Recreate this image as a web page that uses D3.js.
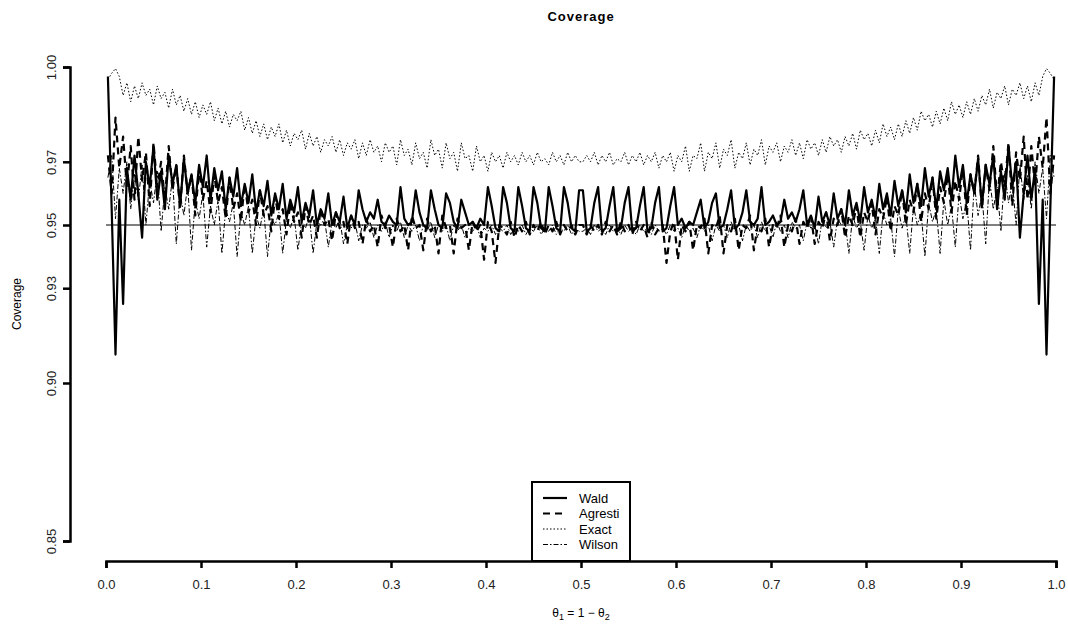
<!DOCTYPE html>
<html>
<head>
<meta charset="utf-8">
<script src="https://cdn.jsdelivr.net/npm/d3@7"></script>
<style>
  body { margin: 0; background: #fff; }
  svg { font-family: "Liberation Sans", Arial, sans-serif; }
</style>
</head>
<body>
<div id="chart-container"></div>
<script>
// Coverage values for theta1 in [0, 0.5], step 0.004
// (the curves are symmetric about 0.5, the right half is the mirror image)
const thetaHalf = d3.range(125).map(i => 0.002 + 0.004 * i);

const wald = [
  0.997, 0.955, 0.909, 0.958, 0.925, 0.968, 0.958, 0.972, 0.960, 0.946,
  0.970, 0.962, 0.975, 0.958, 0.967, 0.955, 0.972, 0.963, 0.969, 0.956,
  0.971, 0.960, 0.966, 0.957, 0.969, 0.962, 0.972, 0.958, 0.968, 0.961,
  0.967, 0.955, 0.965, 0.959, 0.968, 0.956, 0.963, 0.957, 0.966, 0.954,
  0.961, 0.956, 0.964, 0.953, 0.960, 0.955, 0.963, 0.952, 0.958, 0.954,
  0.962, 0.951, 0.957, 0.953, 0.961, 0.950, 0.955, 0.952, 0.960, 0.950,
  0.954, 0.951, 0.959, 0.949, 0.953, 0.950, 0.961, 0.955, 0.951, 0.954,
  0.952, 0.958, 0.951, 0.950, 0.953, 0.951, 0.950, 0.962, 0.952, 0.950,
  0.951, 0.961, 0.954, 0.950, 0.949, 0.961, 0.955, 0.950, 0.949, 0.960,
  0.957, 0.951, 0.949, 0.958, 0.954, 0.950, 0.951, 0.949, 0.952, 0.950,
  0.962, 0.956, 0.949, 0.948, 0.962, 0.957, 0.949, 0.948, 0.962, 0.956,
  0.949, 0.948, 0.962, 0.957, 0.949, 0.948, 0.962, 0.956, 0.949, 0.948,
  0.962, 0.957, 0.949, 0.948, 0.961
];

const agresti = [
  0.972, 0.960, 0.984, 0.968, 0.978, 0.962, 0.975, 0.958, 0.978, 0.964,
  0.973, 0.956, 0.976, 0.962, 0.970, 0.958, 0.975, 0.961, 0.969, 0.955,
  0.972, 0.960, 0.966, 0.953, 0.968, 0.958, 0.964, 0.954, 0.966, 0.957,
  0.962, 0.952, 0.965, 0.955, 0.960, 0.951, 0.963, 0.954, 0.958, 0.950,
  0.961, 0.953, 0.956, 0.948, 0.959, 0.952, 0.955, 0.947, 0.957, 0.951,
  0.954, 0.946, 0.956, 0.950, 0.953, 0.946, 0.955, 0.950, 0.952, 0.945,
  0.954, 0.949, 0.951, 0.944, 0.953, 0.949, 0.951, 0.944, 0.952, 0.948,
  0.950, 0.943, 0.953, 0.949, 0.950, 0.943, 0.952, 0.948, 0.950, 0.942,
  0.953, 0.949, 0.950, 0.942, 0.952, 0.948, 0.950, 0.941, 0.953, 0.949,
  0.950, 0.941, 0.952, 0.949, 0.950, 0.942, 0.951, 0.948, 0.950, 0.939,
  0.951, 0.948, 0.938, 0.950, 0.949, 0.947, 0.951, 0.946, 0.950, 0.948,
  0.951, 0.947, 0.950, 0.948, 0.951, 0.947, 0.950, 0.948, 0.951, 0.947,
  0.950, 0.948, 0.950, 0.947, 0.950
];

const exact = [
  0.996, 0.998, 0.9995, 0.997, 0.991, 0.995, 0.989, 0.994, 0.990, 0.995,
  0.991, 0.993, 0.988, 0.994, 0.990, 0.992, 0.987, 0.993, 0.988, 0.991,
  0.986, 0.990, 0.985, 0.989, 0.984, 0.988, 0.985, 0.989, 0.983, 0.987,
  0.982, 0.986, 0.981, 0.985, 0.983, 0.986, 0.980, 0.984, 0.979, 0.983,
  0.978, 0.982, 0.977, 0.981, 0.978, 0.982, 0.976, 0.980, 0.975, 0.979,
  0.977, 0.980, 0.974, 0.979, 0.975, 0.978, 0.973, 0.977, 0.975, 0.978,
  0.973, 0.977, 0.972, 0.976, 0.974, 0.977, 0.971, 0.976, 0.972, 0.977,
  0.973, 0.975, 0.970, 0.976, 0.973, 0.975, 0.969, 0.977, 0.972, 0.974,
  0.969, 0.976, 0.971, 0.973, 0.968, 0.977, 0.972, 0.974, 0.968, 0.976,
  0.971, 0.973, 0.967, 0.976, 0.971, 0.972, 0.967, 0.975, 0.970, 0.972,
  0.967, 0.973, 0.970, 0.972, 0.968, 0.973, 0.970, 0.972, 0.969, 0.973,
  0.970, 0.972, 0.969, 0.973, 0.970, 0.971, 0.969, 0.973, 0.970, 0.972,
  0.969, 0.973, 0.970, 0.972, 0.970
];

const wilson = [
  0.965, 0.972, 0.952, 0.968, 0.960, 0.970, 0.955, 0.966, 0.958, 0.969,
  0.950, 0.964, 0.957, 0.967, 0.948, 0.962, 0.955, 0.965, 0.944, 0.960,
  0.953, 0.963, 0.942, 0.958, 0.952, 0.960, 0.943, 0.956, 0.950, 0.958,
  0.941, 0.955, 0.951, 0.957, 0.940, 0.954, 0.950, 0.956, 0.941, 0.953,
  0.949, 0.955, 0.940, 0.952, 0.950, 0.954, 0.941, 0.952, 0.949, 0.953,
  0.942, 0.951, 0.949, 0.953, 0.941, 0.951, 0.950, 0.952, 0.943, 0.951,
  0.949, 0.952, 0.944, 0.950, 0.949, 0.951, 0.945, 0.950, 0.949, 0.951,
  0.946, 0.950, 0.948, 0.951, 0.946, 0.950, 0.948, 0.951, 0.946, 0.950,
  0.948, 0.950, 0.945, 0.950, 0.948, 0.951, 0.946, 0.950, 0.948, 0.950,
  0.945, 0.950, 0.948, 0.950, 0.946, 0.949, 0.948, 0.950, 0.946, 0.949,
  0.948, 0.950, 0.947, 0.949, 0.948, 0.950, 0.947, 0.949, 0.948, 0.950,
  0.947, 0.949, 0.948, 0.950, 0.947, 0.949, 0.948, 0.950, 0.947, 0.949,
  0.948, 0.950, 0.947, 0.949, 0.948
];

const seriesNames = ['Wald', 'Agresti', 'Exact', 'Wilson'];
const xTicks = [0, 0.1, 0.2, 0.3, 0.4, 0.5, 0.6, 0.7, 0.8, 0.9, 1.0];
const yTicks = [0.85, 0.90, 0.93, 0.95, 0.97, 1.00];
const nominal = 0.95;

/** Builds the whole curve from the left half and its mirror image */
function fullCurve(values) {
  const left = thetaHalf.map((t, i) => [t, values[i]]);
  const right = thetaHalf.map((t, i) => [1 - t, values[i]]).reverse();
  return left.concat(right);
}

// Line style for each method (stroke width, dash pattern)
const styles = {
  Wald: { width: 2.2, dash: null },
  Agresti: { width: 2.2, dash: '7,5' },
  Exact: { width: 1, dash: '1.5,2' },
  Wilson: { width: 1, dash: '5,2,1.5,2' }
};
const curves = {
  Wald: fullCurve(wald),
  Agresti: fullCurve(agresti),
  Exact: fullCurve(exact),
  Wilson: fullCurve(wilson)
};

const width = 1068, height = 630;

const svg = d3.select('#chart-container')
  .append('svg')
  .attr('width', width)
  .attr('height', height);

// Scales
const x = d3.scaleLinear().domain([0, 1]).range([106, 1056]);
const y = d3.scaleLinear().domain([0.85, 1.00]).range([541, 67]);

// Title
svg.append('text')
  .attr('x', 581)
  .attr('y', 21)
  .attr('text-anchor', 'middle')
  .style('font-size', '13px')
  .style('font-weight', 'bold')
  .style('letter-spacing', '1px')
  .text('Coverage');

// Y axis
const yAxis = svg.append('g')
  .attr('transform', 'translate(70,0)')
  .call(d3.axisLeft(y).tickValues(yTicks).tickFormat(d3.format('.2f')).tickSizeOuter(0).tickSize(7));
yAxis.select('.domain').attr('stroke-width', 2.5);
yAxis.selectAll('.tick line').attr('stroke-width', 2.5);
yAxis.selectAll('.tick text')
  .attr('x', 0)
  .attr('y', 0)
  .attr('dy', 0)
  .attr('transform', 'translate(-14,0) rotate(-90)')
  .attr('text-anchor', 'middle')
  .style('font-size', '13px')
  .style('font-family', '"Liberation Sans", Arial, sans-serif')
  .attr('fill', '#222');

svg.append('text')
  .attr('transform', `translate(21,${(67 + 541) / 2}) rotate(-90)`)
  .attr('text-anchor', 'middle')
  .style('font-size', '12px')
  .text('Coverage');

// X axis
const xAxis = svg.append('g')
  .attr('transform', 'translate(0,561)')
  .call(d3.axisBottom(x).tickValues(xTicks).tickFormat(d3.format('.1f')).tickSizeOuter(0).tickSize(7));
xAxis.select('.domain').attr('stroke-width', 2.5);
xAxis.selectAll('.tick line').attr('stroke-width', 2.5);
xAxis.selectAll('.tick text')
  .attr('y', 19)
  .attr('dy', '0.71em')
  .style('font-size', '13px')
  .style('font-family', '"Liberation Sans", Arial, sans-serif')
  .attr('fill', '#222');

// X axis title: theta1 = 1 - theta2
const xTitle = svg.append('text')
  .attr('x', 581)
  .attr('y', 617)
  .attr('text-anchor', 'middle')
  .style('font-size', '12px');
xTitle.append('tspan').text('θ');
xTitle.append('tspan').attr('dy', 3).style('font-size', '9px').text('1');
xTitle.append('tspan').attr('dy', -3).text(' = 1 − θ');
xTitle.append('tspan').attr('dy', 3).style('font-size', '9px').text('2');

// Nominal level line
svg.append('line')
  .attr('x1', x(0))
  .attr('x2', x(1))
  .attr('y1', y(nominal))
  .attr('y2', y(nominal))
  .attr('stroke', '#000')
  .attr('stroke-width', 1);

// Curves
const line = d3.line()
  .x(d => x(d[0]))
  .y(d => y(d[1]));

['Exact', 'Wilson', 'Agresti', 'Wald'].forEach(name => {
  svg.append('path')
    .datum(curves[name])
    .attr('fill', 'none')
    .attr('stroke', '#000')
    .attr('stroke-width', styles[name].width)
    .attr('stroke-dasharray', styles[name].dash)
    .attr('stroke-linejoin', 'round')
    .attr('d', line);
});

// Legend
const legend = svg.append('g');
legend.append('rect')
  .attr('x', 532)
  .attr('y', 482)
  .attr('width', 98)
  .attr('height', 79)
  .attr('fill', '#fff')
  .attr('stroke', '#000')
  .attr('stroke-width', 2);

seriesNames.forEach((name, i) => {
  const ly = 498 + i * 15.5;
  legend.append('line')
    .attr('x1', 543)
    .attr('x2', 567)
    .attr('y1', ly)
    .attr('y2', ly)
    .attr('stroke', '#000')
    .attr('stroke-width', styles[name].width)
    .attr('stroke-dasharray', styles[name].dash);
  legend.append('text')
    .attr('x', 579)
    .attr('y', ly)
    .attr('dy', '0.35em')
    .style('font-size', '13px')
    .text(name);
});
</script>
</body>
</html>
